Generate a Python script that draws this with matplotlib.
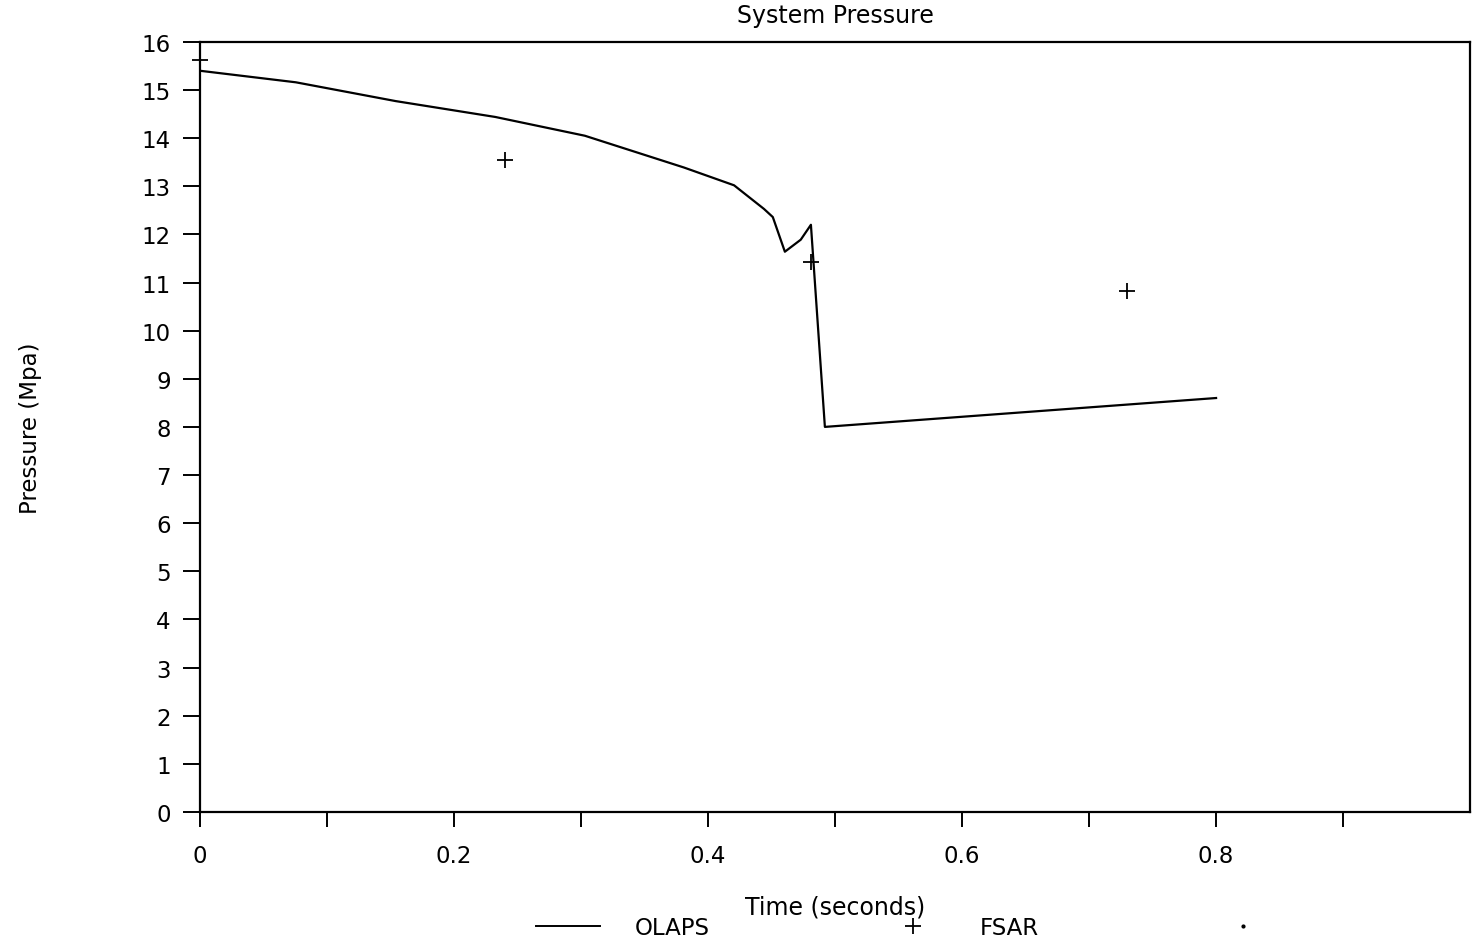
import numpy as np
import matplotlib.pyplot as plt
from matplotlib.lines import Line2D

plt.rcParams['font.family'] = ['DejaVu Sans']

# OLAPS 計算結果
olaps_t = [0.0, 0.0755, 0.154, 0.2325, 0.303, 0.381, 0.4205, 0.444, 0.451,
           0.4605, 0.473, 0.481, 0.492, 0.800]
olaps_p = [15.40, 15.16, 14.77, 14.44, 14.05, 13.39, 13.02, 12.53, 12.36,
           11.64, 11.89, 12.20, 8.00, 8.60]

# FSAR の値
fsar_t = [0.0, 0.240, 0.481, 0.730]
fsar_p = [15.63, 13.55, 11.43, 10.82]

xticks = [0, 0.2, 0.4, 0.6, 0.8]
xtick_labels = ['0', '0.2', '0.4', '0.6', '0.8']
xminor = [0.1, 0.3, 0.5, 0.7, 0.9]
yticks = list(range(0, 17))

fig = plt.figure(figsize=(14.76, 9.53), dpi=100)
ax = fig.add_axes([0.1355, 0.147, 0.8605, 0.808])

ax.plot(olaps_t, olaps_p, color='black', linewidth=1.6)
ax.plot(fsar_t, fsar_p, linestyle='none', marker='+', color='black',
        markersize=11, markeredgewidth=1.3, clip_on=False)

ax.set_xlim(0, 1.0)
ax.set_ylim(0, 16)
ax.set_xticks(xticks)
ax.set_xticklabels(xtick_labels)
ax.set_xticks(xminor, minor=True)
ax.set_yticks(yticks)

for s in ax.spines.values():
    s.set_linewidth(1.6)

fs = 16.5
ax.tick_params(axis='y', direction='out', length=12, width=1.4, labelsize=fs, pad=9)
ax.tick_params(axis='x', which='both', direction='out', length=11, width=1.4,
               labelsize=fs, pad=12)

ax.set_title('System Pressure', fontsize=17, pad=14)
ax.set_xlabel('Time (seconds)', fontsize=17, labelpad=20)
ax.set_ylabel('Pressure (Mpa)', fontsize=fs, labelpad=72)

handles = [
    Line2D([], [], color='black', linewidth=1.4),
    Line2D([], [], color='black', linestyle='none', marker='+', markersize=11,
           markeredgewidth=1.3),
    Line2D([], [], color='black', linestyle='none', marker='.', markersize=4),
]
fig.legend(handles, ['OLAPS', 'FSAR', ''], ncol=3, loc='lower center',
           bbox_to_anchor=(0.625, -0.008), frameon=False, fontsize=fs,
           handlelength=2.8, handletextpad=1.5, columnspacing=7.5)

fig.savefig('out.png', dpi=100)
